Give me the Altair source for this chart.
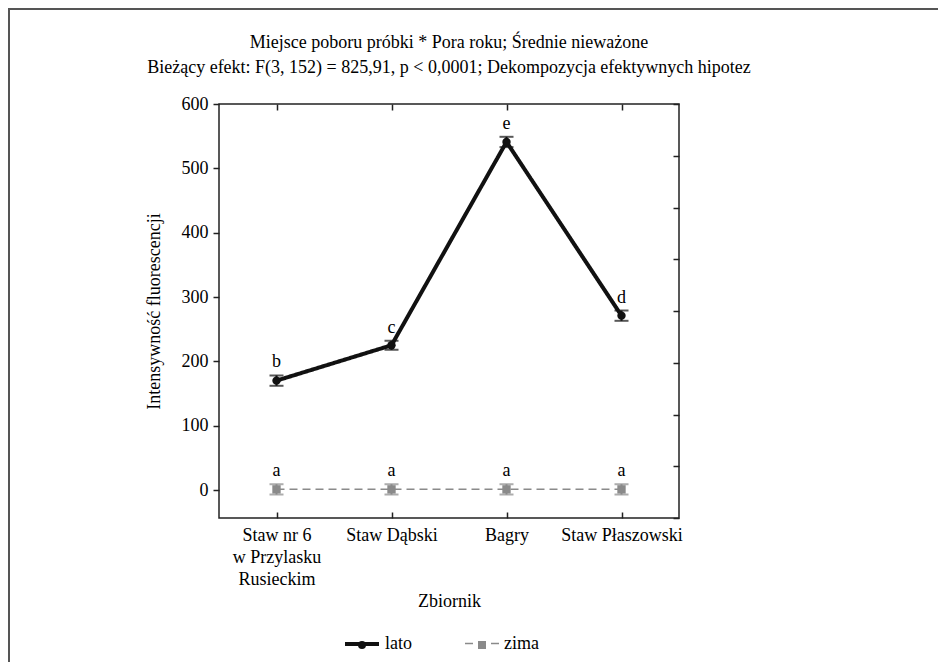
import altair as alt
import pandas as pd

# ---- data ----
categories = ["Staw nr 6|w Przylasku|Rusieckim", "Staw Dąbski", "Bagry", "Staw Płaszowski"]
series_names = ["lato", "zima"]
lato_mean = [170, 225, 541, 271]
lato_err = [8, 7, 8, 8]
lato_letters = ["b", "c", "e", "d"]
zima_mean = [1, 1, 1, 1]
zima_err = [8, 8, 8, 8]
zima_letters = ["a", "a", "a", "a"]

title_lines = [
    "Miejsce poboru próbki * Pora roku; Średnie nieważone",
    "Bieżący efekt: F(3, 152) = 825,91, p < 0,0001; Dekompozycja efektywnych hipotez",
]
y_ticks = [0, 100, 200, 300, 400, 500, 600]

rows = []
for s, means, errs, lets in [("lato", lato_mean, lato_err, lato_letters),
                             ("zima", zima_mean, zima_err, zima_letters)]:
    for c, m, e, l in zip(categories, means, errs, lets):
        rows.append({"place": c, "series": s, "series_pt": s, "mean": m,
                     "lo": m - e, "hi": m + e, "letter": l})
df = pd.DataFrame(rows)

FONT = "Liberation Serif"
FS = 18
W, H = 460, 414
BLACK = "#111111"
GRAY = "#8a8a8a"

xscale = alt.Scale(type="point", padding=0.5)
yscale = alt.Scale(domain=[-43.5, 600], nice=False, zero=False)

x_main = alt.X("place:N", sort=categories, scale=xscale,
               axis=alt.Axis(title="Zbiornik", labelExpr="split(datum.label, '|')",
                             ticks=False, domain=False, labelAngle=0, labelFontSize=FS,
                             labelFont=FONT, labelColor="black", labelPadding=8,
                             labelLineHeight=22, labelBaseline="top", titleFont=FONT,
                             titleFontSize=FS, titleFontWeight="normal", titleColor="black",
                             titlePadding=4))
y_main = alt.Y("mean:Q", scale=yscale,
               axis=alt.Axis(title="Intensywność fluorescencji", values=y_ticks, tickSize=6,
                             tickColor="#222", tickWidth=1.5, domain=False, grid=False,
                             labelFontSize=FS, labelFont=FONT, labelColor="black",
                             labelPadding=5, titleFont=FONT, titleFontSize=FS,
                             titleFontWeight="normal", titleColor="black", titlePadding=18))

color_scale = alt.Scale(domain=series_names, range=[BLACK, GRAY])
leg_line = alt.Legend(orient="none", legendX=124, legendY=521, direction="horizontal",
                      title=None, symbolType="stroke", symbolSize=1156, labelFontSize=FS,
                      labelFont=FONT, labelColor="black", labelOffset=4, columnPadding=50,
                      padding=0)
leg_pt = alt.Legend(orient="none", legendX=134, legendY=532, direction="horizontal",
                    title=None, symbolSize=64, labelFontSize=FS, labelFont=FONT,
                    labelExpr="''", labelOffset=10, columnPadding=92, padding=0,
                    symbolStrokeWidth=0)

base = alt.Chart(df)

line = base.mark_line().encode(
    x=x_main, y=y_main,
    color=alt.Color("series:N", scale=color_scale, legend=leg_line),
    strokeDash=alt.StrokeDash("series:N", scale=alt.Scale(domain=series_names, range=[[1, 0], [8, 5]]), legend=leg_line),
    strokeWidth=alt.StrokeWidth("series:O", scale=alt.Scale(domain=series_names, range=[4, 1.5]), legend=leg_line),
)

pts = base.mark_point(filled=True, opacity=1, size=70).encode(
    x=alt.X("place:N", sort=categories, scale=xscale),
    y=alt.Y("mean:Q", scale=yscale),
    fill=alt.Fill("series_pt:N", scale=alt.Scale(range=[BLACK, GRAY]), legend=leg_pt),
    shape=alt.Shape("series_pt:N", scale=alt.Scale(range=["circle", "square"]), legend=leg_pt),
)

err = base.mark_rule(strokeWidth=2).encode(
    x=alt.X("place:N", sort=categories, scale=xscale),
    y=alt.Y("lo:Q", scale=yscale), y2="hi:Q",
    color=alt.Color("series:N", scale=color_scale, legend=None),
)
cap_lo = base.mark_tick(thickness=2, size=14, orient="horizontal").encode(
    x=alt.X("place:N", sort=categories, scale=xscale),
    y=alt.Y("lo:Q", scale=yscale),
    color=alt.Color("series:N", scale=color_scale, legend=None),
)
cap_hi = base.mark_tick(thickness=2, size=14, orient="horizontal").encode(
    x=alt.X("place:N", sort=categories, scale=xscale),
    y=alt.Y("hi:Q", scale=yscale),
    color=alt.Color("series:N", scale=color_scale, legend=None),
)
letters = base.mark_text(dy=-4, baseline="bottom", fontSize=FS, font=FONT, color="black").encode(
    x=alt.X("place:N", sort=categories, scale=xscale),
    y=alt.Y("hi:Q", scale=yscale),
    text="letter:N",
)
frame = base.mark_rect(filled=False, stroke="#555555", strokeWidth=2).encode(
    x=alt.value(-210), x2=alt.value(1200), y=alt.value(-95), y2=alt.value(1200)
)

main = alt.layer(line, err, cap_lo, cap_hi, pts, letters, frame)

# inward ticks on the right (8 equal divisions) and inward ticks at the bottom edge
layer_b = base.mark_point(opacity=0).encode(
    x=alt.X("place:N", sort=categories, scale=xscale,
            axis=alt.Axis(orient="top", offset=-H, labels=False, domain=False, tickSize=6,
                          tickColor="#222", tickWidth=1.5, title=None, grid=False)),
    y=alt.YDatum(0, type="quantitative", scale=alt.Scale(domain=[0, 8], nice=False),
                 axis=alt.Axis(orient="left", offset=-W, values=list(range(9)), labels=False,
                               domain=False, tickSize=6, tickColor="#222", tickWidth=1.5,
                               title=None, grid=False)),
)
# inward ticks at the top edge
layer_c = base.mark_point(opacity=0).encode(
    x=alt.X("place:N", sort=categories, scale=xscale,
            axis=alt.Axis(orient="bottom", offset=-H, labels=False, domain=False, tickSize=6,
                          tickColor="#222", tickWidth=1.5, title=None, grid=False)),
)

chart = alt.layer(main, layer_b, layer_c).resolve_scale(
    x="independent", y="independent"
).properties(
    width=W, height=H,
    title=alt.TitleParams(text=title_lines, font=FONT, fontSize=FS, fontWeight="normal",
                          color="black", lineHeight=25, anchor="middle", offset=26, dy=95),
    padding={"left": 211, "top": 96, "right": 259, "bottom": 144},
    autosize=alt.AutoSizeParams(type="none"),
    background="white",
).configure_view(stroke="#222222", strokeWidth=1.5)

chart.save("out.html", embed_options={"renderer": "svg", "actions": False})
